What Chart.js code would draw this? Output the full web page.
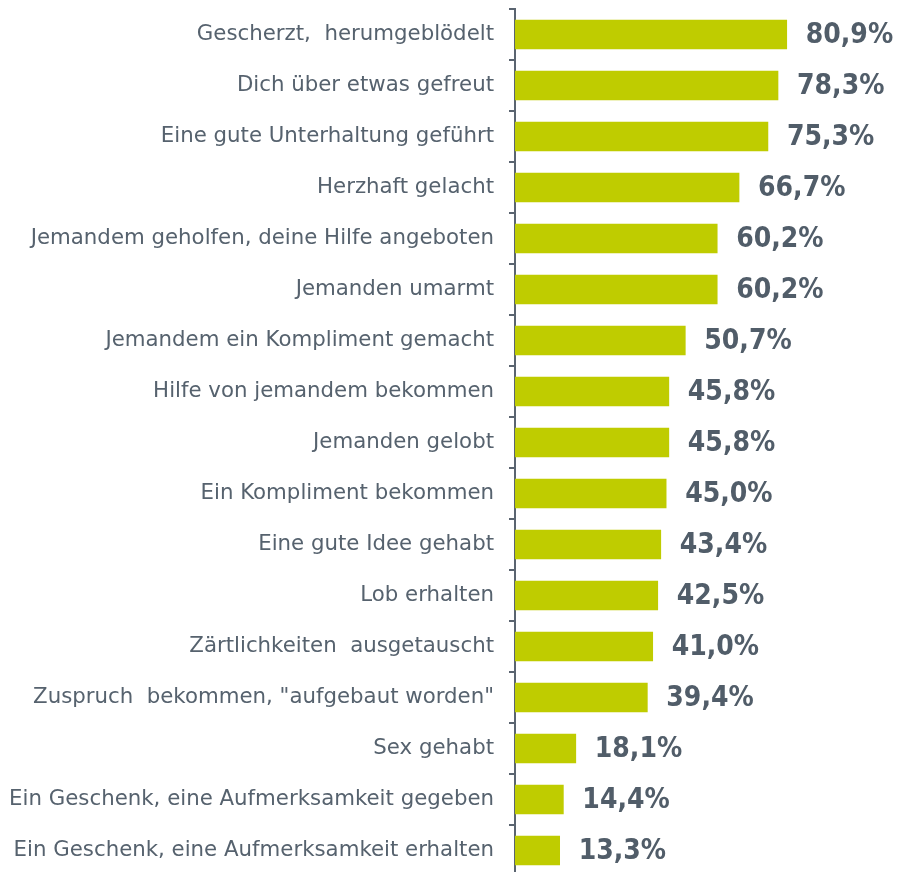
<!DOCTYPE html>
<html>
<head>
<meta charset="utf-8">
<script src="https://cdn.jsdelivr.net/npm/chart.js@4/dist/chart.umd.min.js"></script>
<style>
  html, body { margin: 0; padding: 0; background: #fff; overflow: hidden; }
  #outer { width: 908px; height: 872px; overflow: hidden; position: relative; }
  #wrap { width: 908px; height: 880px; position: absolute; left: 0; top: 0; }
</style>
</head>
<body>
<div id="outer"><div id="wrap"><canvas id="c"></canvas></div></div>
<script>
const categories = [
  "Gescherzt,  herumgeblödelt",
  "Dich über etwas gefreut",
  "Eine gute Unterhaltung geführt",
  "Herzhaft gelacht",
  "Jemandem geholfen, deine Hilfe angeboten",
  "Jemanden umarmt",
  "Jemandem ein Kompliment gemacht",
  "Hilfe von jemandem bekommen",
  "Jemanden gelobt",
  "Ein Kompliment bekommen",
  "Eine gute Idee gehabt",
  "Lob erhalten",
  "Zärtlichkeiten  ausgetauscht",
  "Zuspruch  bekommen, \"aufgebaut worden\"",
  "Sex gehabt",
  "Ein Geschenk, eine Aufmerksamkeit gegeben",
  "Ein Geschenk, eine Aufmerksamkeit erhalten"
];
const values = [80.9, 78.3, 75.3, 66.7, 60.2, 60.2, 50.7, 45.8, 45.8, 45.0, 43.4, 42.5, 41.0, 39.4, 18.1, 14.4, 13.3];

const AXIS_COLOR = '#5a6470';
const LABEL_COLOR = '#56626e';
const VALUE_COLOR = '#515d69';
const BAR_COLOR = '#bfcc00';
const FONT = '"DejaVu Sans", Verdana, sans-serif';
const VFONT = '"DejaVu Sans Condensed", "DejaVu Sans", Verdana, sans-serif';

const valueLabels = {
  id: 'valueLabels',
  afterDatasetsDraw(chart) {
    const ctx = chart.ctx;
    const meta = chart.getDatasetMeta(0);
    ctx.save();
    ctx.font = 'bold 28px ' + VFONT;
    ctx.fillStyle = VALUE_COLOR;
    ctx.textAlign = 'left';
    ctx.textBaseline = 'middle';
    meta.data.forEach((bar, i) => {
      const txt = values[i].toFixed(1).replace('.', ',') + '%';
      ctx.fillText(txt, bar.x + 19, bar.y + 1);
    });
    ctx.restore();
  }
};

new Chart(document.getElementById('c'), {
  type: 'bar',
  data: {
    labels: categories,
    datasets: [{
      data: values,
      backgroundColor: BAR_COLOR,
      borderWidth: 0,
      barThickness: 29
    }]
  },
  options: {
    indexAxis: 'y',
    responsive: true,
    maintainAspectRatio: false,
    animation: false,
    layout: { padding: { top: 9, bottom: 4, left: 0, right: 0 } },
    plugins: { legend: { display: false }, tooltip: { enabled: false } },
    scales: {
      x: { display: false, min: 0, max: 117 },
      y: {
        afterFit(scale) { scale.width = 515; scale.paddingTop = 0; scale.paddingBottom = 0; },
        border: { display: true, color: AXIS_COLOR, width: 2 },
        grid: { display: true, drawOnChartArea: false, drawTicks: true, tickLength: 6, color: AXIS_COLOR, lineWidth: 2, offset: true },
        ticks: {
          color: LABEL_COLOR,
          padding: 15,
          autoSkip: false,
          font: { family: FONT, size: 21.3 }
        }
      }
    }
  },
  plugins: [valueLabels]
});
</script>
</body>
</html>
